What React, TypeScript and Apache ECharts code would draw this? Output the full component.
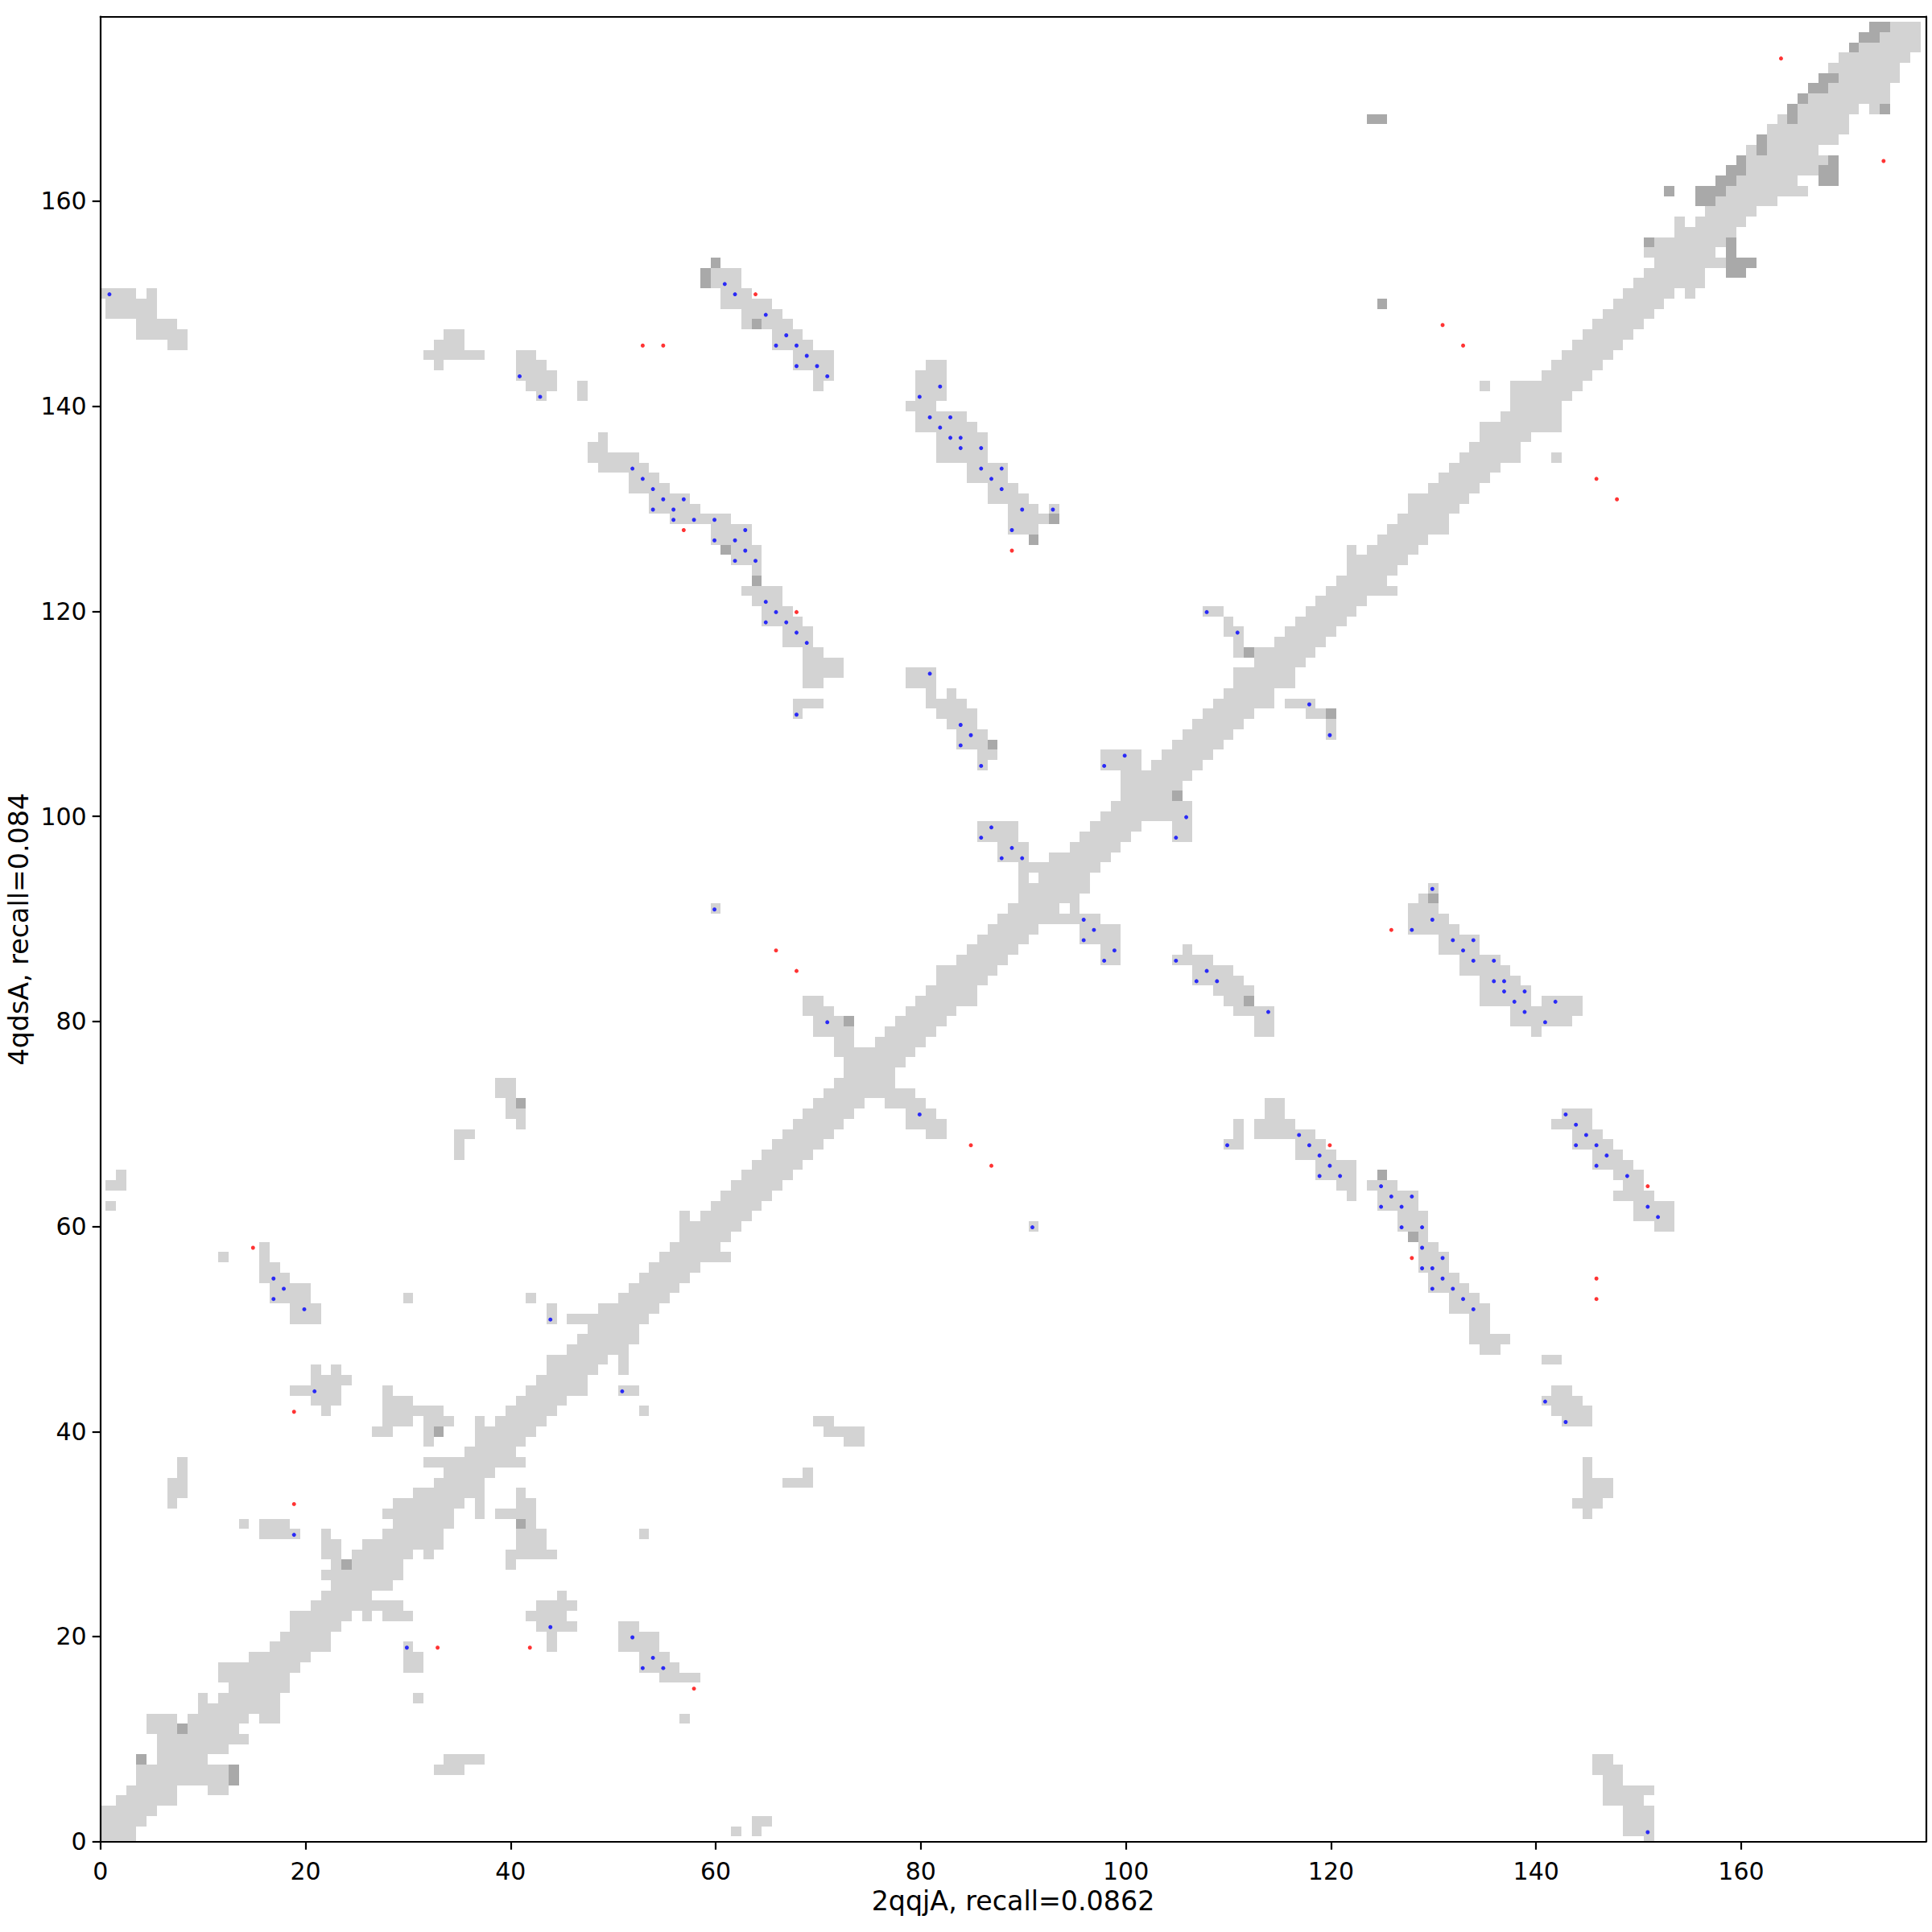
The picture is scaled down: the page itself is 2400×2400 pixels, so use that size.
import React, { useEffect, useRef } from "react";
import * as echarts from "echarts";

const xTitle = "2qqjA, recall=0.0862";
const yTitle = "4qdsA, recall=0.084";
const tickValues = [0, 20, 40, 60, 80, 100, 120, 140, 160];
const axisMax = 178;

// each row: y, then pairs of first and last x of a run of light cells
const lightRows: number[][] = [
  [0, 0,3, 151,151],[1, 0,3, 62,62, 64,64, 149,151],[2, 0,4, 64,65, 149,151],[3, 0,5, 149,151],
  [4, 2,7, 147,150],[5, 3,7, 11,12, 147,151],[6, 4,12, 147,148],[7, 4,12, 33,35, 146,148],
  [8, 6,10, 34,37, 146,147],[9, 6,12],[10, 6,14],[11, 5,7, 9,13],
  [12, 5,7, 9,14, 16,17, 57,57],[13, 10,17],[14, 10,10, 12,17, 31,31],[15, 13,18],
  [16, 12,18, 55,58],[17, 12,19, 30,31, 53,56],[18, 15,20, 30,31, 53,55],[19, 17,22, 30,30, 44,44, 51,54],
  [20, 18,22, 44,44, 51,54],[21, 19,23, 43,46, 51,52],[22, 19,24, 26,26, 28,30, 42,45],[23, 21,29, 43,46],
  [24, 22,26, 45,45],[25, 23,28],[26, 22,29],[27, 23,23, 25,29, 40,40],
  [28, 22,23, 25,30, 32,32, 40,44],[29, 22,23, 26,33, 41,43],[30, 16,19, 22,22, 28,33, 41,43, 53,53],[31, 14,14, 16,18, 29,34, 42,42],
  [32, 28,34, 37,37, 39,42, 145,145],[33, 7,7, 29,35, 37,37, 41,42, 144,146],[34, 7,8, 31,37, 41,41, 145,147],[35, 7,8, 33,37, 67,69, 145,147],
  [36, 8,8, 34,38, 69,69, 145,145],[37, 8,8, 32,41, 145,145],[38, 36,40],[39, 32,32, 37,41, 73,74],
  [40, 27,28, 32,32, 37,42, 71,74],[41, 28,30, 32,34, 37,37, 39,43, 70,71, 143,145],[42, 22,22, 28,33, 40,44, 53,53, 142,145],[43, 21,23, 28,30, 41,45, 141,144],
  [44, 19,23, 28,28, 42,47, 51,52, 142,143],[45, 21,24, 43,47],[46, 21,21, 23,23, 44,48, 51,51],[47, 44,49, 51,51, 141,142],
  [48, 46,51, 135,136],[49, 47,52, 134,137],[50, 48,52, 134,135],[51, 19,21, 44,44, 46,53, 134,135],
  [52, 19,21, 44,44, 49,54, 132,135],[53, 17,20, 30,30, 42,42, 51,55, 132,134],[54, 17,20, 52,56, 130,133],[55, 16,18, 53,57, 130,132],
  [56, 16,17, 54,58, 129,131],[57, 12,12, 16,16, 55,61, 129,131],[58, 16,16, 56,60, 129,130],[59, 57,61, 129,129],
  [60, 57,62, 91,91, 127,129, 152,153],[61, 57,57, 59,63, 127,129, 150,153],[62, 1,1, 60,64, 125,128, 150,153],[63, 61,65, 122,122, 125,128, 148,151],
  [64, 1,2, 62,66, 121,122, 124,126, 149,150],[65, 2,2, 63,67, 119,122, 148,150],[66, 64,68, 119,122, 146,149],[67, 35,35, 65,69, 117,120, 146,148],
  [68, 35,35, 66,70, 110,111, 117,119, 144,147],[69, 35,36, 67,71, 81,82, 111,111, 113,118, 144,146],[70, 41,41, 68,72, 79,82, 111,111, 113,116, 142,145],[71, 40,41, 69,73, 79,81, 114,115, 143,145],
  [72, 40,40, 70,74, 77,80, 114,115],[73, 39,40, 71,79],[74, 39,40, 72,77],[75, 73,77],
  [76, 73,78],[77, 72,79],[78, 72,73, 76,80],[79, 70,73, 77,81, 113,114, 140,140],
  [80, 70,72, 78,82, 113,114, 138,143],[81, 69,71, 79,83, 111,114, 138,144],[82, 69,70, 80,85, 110,111, 135,139, 141,144],[83, 81,85, 109,112, 135,139],
  [84, 82,86, 107,111, 135,138],[85, 82,87, 107,110, 133,137],[86, 84,88, 98,99, 105,108, 133,136],[87, 85,89, 98,99, 106,106, 131,134],
  [88, 86,90, 96,99, 131,134],[89, 87,91, 96,99, 128,132],[90, 88,97, 128,131],[91, 60,60, 89,93, 95,95, 128,130],
  [92, 90,95, 129,129],[93, 90,96, 130,130],[94, 90,90, 92,96],[95, 90,97],
  [96, 88,90, 93,98],[97, 88,90, 95,99],[98, 86,89, 96,100, 105,106],[99, 86,89, 97,101, 105,106],
  [100, 98,106],[101, 99,106],[102, 100,104],[103, 100,105],
  [104, 100,106],[105, 86,86, 98,101, 103,107],[106, 86,87, 98,101, 104,108],[107, 84,86, 105,109],
  [108, 84,86, 106,110, 120,120],[109, 83,85, 107,111, 120,120],[110, 68,68, 82,85, 108,112, 118,119],[111, 68,70, 81,84, 109,114, 116,118],
  [112, 81,81, 83,83, 110,114],[113, 69,70, 79,81, 111,116],[114, 69,72, 79,81, 111,116],[115, 69,72, 113,117],
  [116, 69,70, 111,111, 113,118],[117, 67,69, 111,111, 115,119],[118, 67,69, 110,111, 116,120],[119, 65,68, 110,110, 117,121],
  [120, 65,67, 108,109, 118,122],[121, 64,66, 119,123],[122, 63,66, 120,126],[123, 121,125],
  [124, 64,64, 122,126],[125, 62,64, 122,127],[126, 62,64, 122,122, 124,128],[127, 60,63, 125,129],
  [128, 60,63, 89,91, 126,131],[129, 56,61, 89,92, 127,131],[130, 54,58, 89,91, 93,93, 128,132],[131, 54,57, 87,90, 128,133],
  [132, 52,55, 87,89, 130,134],[133, 52,54, 85,88, 131,135],[134, 49,53, 85,88, 132,136],[135, 48,52, 82,86, 133,138, 142,142],
  [136, 48,49, 82,86, 134,138],[137, 49,49, 82,86, 135,139],[138, 80,85, 135,142],[139, 80,84, 137,142],
  [140, 79,81, 138,142],[141, 43,43, 47,47, 80,82, 138,143],[142, 42,44, 47,47, 70,70, 80,82, 135,135, 138,144],[143, 41,44, 70,71, 80,82, 141,145],
  [144, 33,33, 41,43, 68,71, 81,82, 142,146],[145, 32,37, 41,42, 68,71, 143,147],[146, 7,8, 33,35, 66,69, 144,148],[147, 4,8, 34,35, 66,68, 145,149],
  [148, 4,7, 63,63, 65,67, 146,150],[149, 1,5, 63,66, 147,151],[150, 1,5, 61,65, 148,152],[151, 0,3, 5,5, 61,63, 149,153, 155,155],
  [152, 60,62, 150,156],[153, 60,62, 151,156],[154, 152,158],[155, 151,157],
  [156, 152,158],[157, 154,159],[158, 154,154, 156,160],[159, 157,161],
  [160, 158,163],[161, 159,166],[162, 160,165],[163, 161,167],
  [164, 161,168],[165, 161,161, 163,167],[166, 163,169],[167, 163,170],
  [168, 164,164, 166,170],[169, 166,171, 173,173],[170, 167,174],[171, 169,174],
  [172, 170,175],[173, 169,175],[174, 170,176],[175, 172,177],
  [176, 174,177],[177, 175,177],
];

// same layout: y, then runs of dark cells
const darkRows: number[][] = [
  [6, 13,13],[7, 13,13],[8, 4,4],[11, 8,8],[27, 24,24],[31, 41,41],[40, 33,33],[59, 128,128],
  [65, 125,125],[72, 41,41],[80, 73,73],[82, 112,112],[92, 130,130],[102, 105,105],[107, 87,87],
  [110, 120,120],[116, 112,112],[123, 64,64],[126, 61,61],[127, 91,91],[129, 93,93],[148, 64,64],
  [150, 125,125],[152, 59,59],[153, 59,59, 159,160],[154, 60,60, 159,161],[155, 159,159],
  [156, 151,151, 159,159],[160, 156,157],[161, 153,153, 156,158],[162, 158,159, 168,169],
  [163, 159,160, 168,169],[164, 160,160, 169,169],[165, 162,162],[166, 162,162],
  [168, 124,125, 165,165],[169, 165,165, 174,174],[170, 166,166],[171, 167,168],[172, 168,169],
  [175, 171,171],[176, 172,173],[177, 173,174],
];

const bluePoints: number[][] = [
  [17,55],[18,54],[17,53],[20,52],[44,51],[21,44],[51,44],[19,30],[30,19],[44,21],[52,20],[54,18],[53,17],[55,17],
  [129,58],[131,57],[129,56],[130,56],[131,55],[130,54],[132,54],[133,53],[134,52],[141,43],[143,41],[151,1],
  [118,111],[120,108],[130,93],[130,90],[128,89],[132,88],[134,88],[133,87],[134,86],[136,86],[136,84],[137,84],
  [137,83],[139,83],[138,82],[142,82],[139,81],[141,80],[118,68],[119,67],[120,66],[119,65],[121,65],[143,71],
  [144,70],[145,69],[144,68],[146,68],[147,67],[146,66],[149,65],[151,62],[152,61],[125,64],[126,63],[128,63],
  [125,62],[127,62],[127,60],[129,60],
  [68,118],[69,117],[81,114],[68,110],[84,109],[85,108],[84,107],[86,105],[100,106],[98,105],[111,118],[106,100],
  [105,98],[87,99],[86,98],[89,97],[88,96],[90,96],[60,91],[96,90],[97,89],[96,88],[99,87],[98,86],[105,86],[108,85],
  [107,84],[109,84],[114,81],[71,80],[80,71],[117,69],[110,68],[91,60],
  [1,151],[41,143],[43,141],[52,134],[53,133],[54,132],[55,131],[57,131],[54,130],[56,130],[56,129],[58,129],[60,129],
  [60,127],[61,152],[62,151],[65,149],[67,147],[66,146],[68,146],[69,145],[68,144],[70,144],[71,143],[82,142],[80,141],
  [81,139],[83,139],[82,138],[83,137],[84,137],[84,136],[86,136],[86,134],[88,134],[87,133],[88,132],[90,130],[93,130],
  [89,128],[63,128],[62,127],[63,126],[62,125],[64,125],[65,121],[66,120],[65,119],[67,119],[108,120],
];

const redPoints: number[][] = [
  [15,58],[19,42],[19,33],[33,19],[42,19],[58,15],[146,55],[146,53],[128,57],[126,89],[120,68],[151,64],[66,87],[68,85],
  [85,68],[87,66],[53,146],[55,146],[57,128],[64,151],[89,126],[68,120],[164,174],[174,164],[131,148],[133,146],[146,133],[148,131],
];

const toRuns = (rows: number[][]) => {
  const out: number[][] = [];
  rows.forEach((r) => {
    for (let i = 1; i < r.length; i += 2) out.push([r[i], r[i + 1], r[0]]);
  });
  return out;
};

const renderCell = (params: any, api: any) => {
  const x0 = api.value(0);
  const x1 = api.value(1);
  const y = api.value(2);
  const a = api.coord([x0 - 0.5, y + 0.5]);
  const b = api.coord([x1 + 0.5, y - 0.5]);
  const cs = params.coordSys;
  const left = Math.round(Math.max(a[0], cs.x));
  const right = Math.round(Math.min(b[0], cs.x + cs.width));
  const top = Math.round(Math.max(a[1], cs.y));
  const bottom = Math.round(Math.min(b[1], cs.y + cs.height));
  return {
    type: "rect",
    shape: { x: left, y: top, width: right - left, height: bottom - top },
    style: { fill: api.visual("color") },
  };
};

const FONT = "DejaVu Sans";
const LINE = 2.2;

export default function App() {
  const ref = useRef<HTMLDivElement>(null);
  useEffect(() => {
    const chart = echarts.init(ref.current!, undefined, { renderer: "svg", width: 2400, height: 2400 });
    const mainAxis = {
      type: "value",
      min: 0,
      max: axisMax,
      z: 5,
      splitLine: { show: false },
      axisLine: { show: true, onZero: false, lineStyle: { color: "#000", width: LINE } },
      axisTick: { show: true, length: 10, customValues: tickValues, lineStyle: { color: "#000", width: LINE } },
      axisLabel: { show: true, customValues: tickValues, color: "#000", fontFamily: FONT, fontSize: 30, margin: 17 },
      nameLocation: "middle",
      nameTextStyle: { color: "#000", fontFamily: FONT, fontSize: 33.3 },
    };
    const frameAxis = {
      type: "value",
      min: 0,
      max: axisMax,
      z: 5,
      splitLine: { show: false },
      axisLine: { show: true, onZero: false, lineStyle: { color: "#000", width: LINE } },
      axisTick: { show: false },
      axisLabel: { show: false },
    };
    chart.setOption({
      animation: false,
      backgroundColor: "#fff",
      grid: { left: 124.7, top: 20.7, width: 2267.6, height: 2267, containLabel: false, outerBoundsMode: "none" },
      xAxis: [
        {
          ...mainAxis,
          position: "bottom",
          name: xTitle,
          nameGap: 55,
          axisLabel: { ...mainAxis.axisLabel, margin: 22 },
        },
        { ...frameAxis, position: "top" },
      ],
      yAxis: [
        { ...mainAxis, position: "left", name: yTitle, nameGap: 85 },
        { ...frameAxis, position: "right" },
      ],
      series: [
        {
          name: "light",
          type: "custom",
          renderItem: renderCell,
          data: toRuns(lightRows),
          encode: { x: [0, 1], y: 2 },
          itemStyle: { color: "#d3d3d3" },
          silent: true,
          z: 1,
        },
        {
          name: "dark",
          type: "custom",
          renderItem: renderCell,
          data: toRuns(darkRows),
          encode: { x: [0, 1], y: 2 },
          itemStyle: { color: "#a9a9a9" },
          silent: true,
          z: 2,
        },
        {
          name: "blue",
          type: "scatter",
          data: bluePoints,
          symbol: "circle",
          symbolSize: 5,
          symbolOffset: [-1.5, 1],
          itemStyle: { color: "#0000ff" },
          silent: true,
          z: 3,
        },
        {
          name: "red",
          type: "scatter",
          data: redPoints,
          symbol: "circle",
          symbolSize: 5,
          symbolOffset: [-1.5, 1],
          itemStyle: { color: "#ff0000" },
          silent: true,
          z: 3,
        },
      ],
    });
    return () => chart.dispose();
  }, []);
  return <div ref={ref} style={{ position: "absolute", left: 0, top: 0, width: 2400, height: 2400 }} />;
}
